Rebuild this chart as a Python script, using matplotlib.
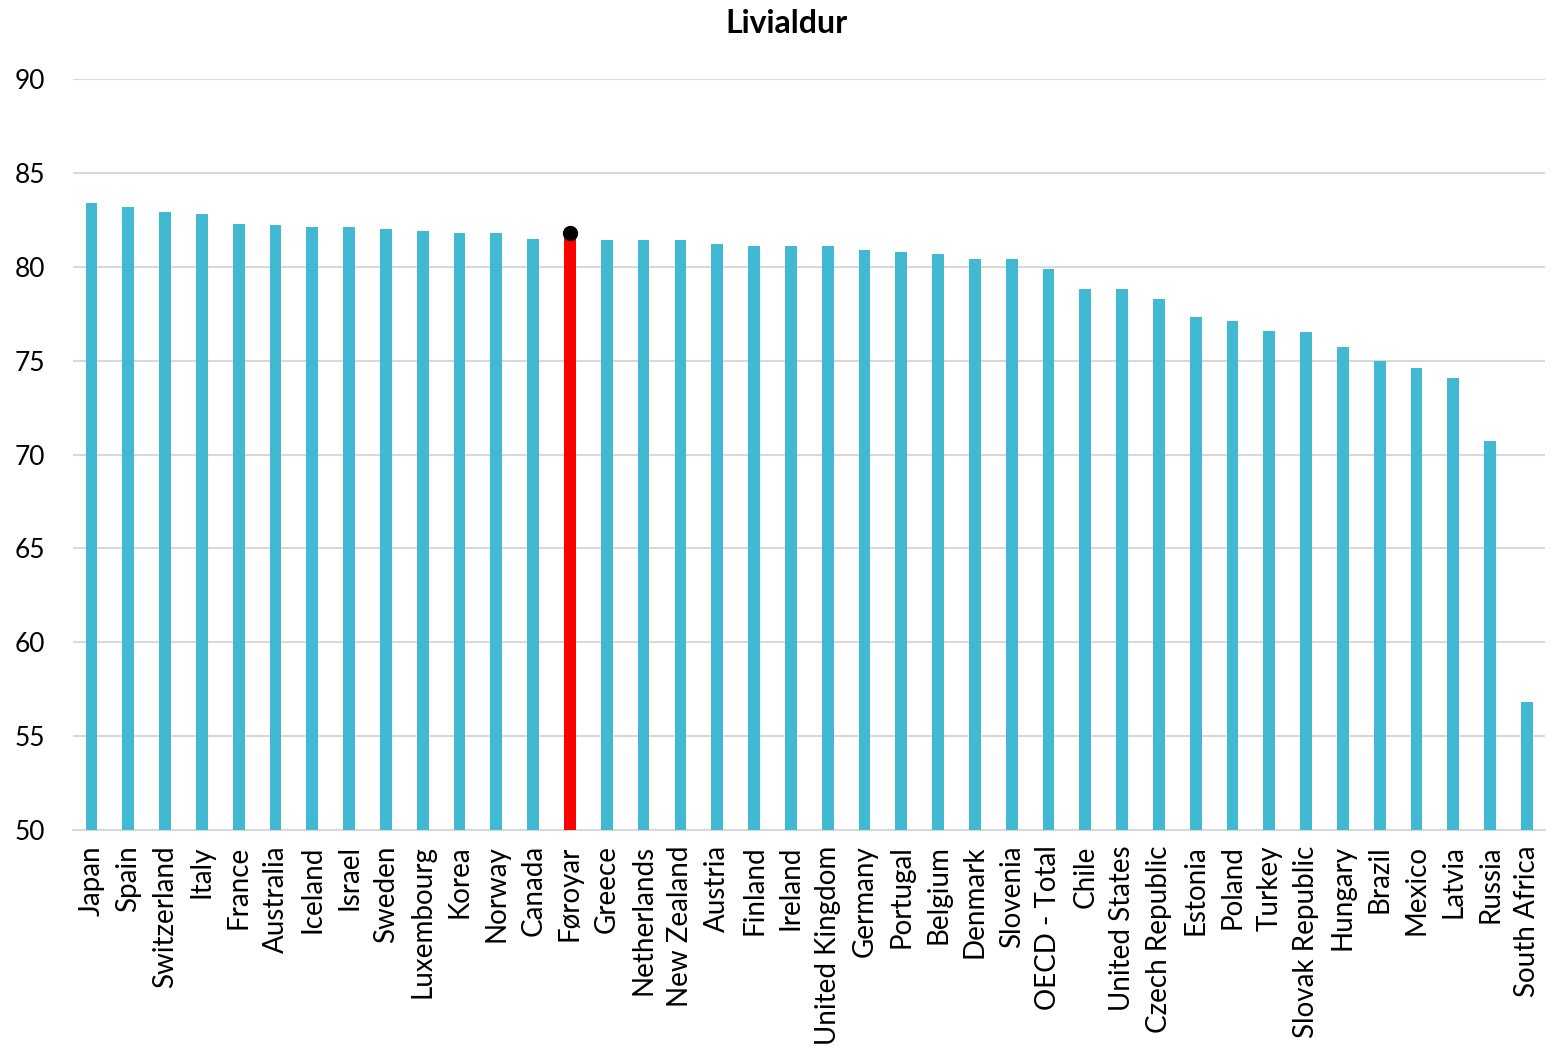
import matplotlib
matplotlib.use("Agg")
import matplotlib.pyplot as plt

countries = ["Japan", "Spain", "Switzerland", "Italy", "France", "Australia", "Iceland",
             "Israel", "Sweden", "Luxembourg", "Korea", "Norway", "Canada", "Føroyar",
             "Greece", "Netherlands", "New Zealand", "Austria", "Finland", "Ireland",
             "United Kingdom", "Germany", "Portugal", "Belgium", "Denmark", "Slovenia",
             "OECD - Total", "Chile", "United States", "Czech Republic", "Estonia",
             "Poland", "Turkey", "Slovak Republic", "Hungary", "Brazil", "Mexico",
             "Latvia", "Russia", "South Africa"]
values = [83.4, 83.2, 82.9, 82.8, 82.3, 82.2, 82.1, 82.1, 82.0, 81.9, 81.8, 81.8, 81.5, 81.8,
          81.4, 81.4, 81.4, 81.2, 81.1, 81.1, 81.1, 80.9, 80.8, 80.7, 80.4, 80.4,
          79.9, 78.8, 78.8, 78.3, 77.3, 77.1, 76.6, 76.5, 75.7, 75.0, 74.6, 74.1, 70.7, 56.8]
highlight = "Føroyar"
yticks = [50, 55, 60, 65, 70, 75, 80, 85, 90]
title = "Livialdur"

plt.rcParams['font.family'] = ['Lato', 'DejaVu Sans']

fig = plt.figure(figsize=(15.61, 10.51), dpi=100)
ax = fig.add_axes([0.0468, 0.2103, 0.9432, 0.7145])

x = list(range(len(countries)))
colors = ["#FF0000" if c == highlight else "#41B9D3" for c in countries]
ax.bar(x, [v - 50 for v in values], bottom=50, width=0.32, color=colors, zorder=3)
hi = countries.index(highlight)
ax.plot([hi], [values[hi]], 'o', color='black', markersize=10, zorder=4)

ax.set_xlim(-0.5, len(countries) - 0.5)
ax.set_ylim(50, 90)
ax.set_yticks(yticks)
ax.set_yticklabels([str(t) for t in yticks], fontsize=19)
ax.set_xticks(x)
ax.set_xticklabels(countries, rotation=90, fontsize=20)
ax.tick_params(axis='both', length=0, colors='black')
ax.tick_params(axis='y', pad=20)
ax.tick_params(axis='x', pad=11)
ax.grid(axis='y', color='#D9D9D9', linewidth=1.5, zorder=0)
for s in ['top', 'right', 'left']:
    ax.spines[s].set_visible(False)
ax.spines['bottom'].set_color('#D9D9D9')
ax.spines['bottom'].set_linewidth(1.5)

fig.text(0.504, 0.978, title, ha='center', va='center', fontsize=23, fontweight='bold')

fig.savefig("out.png", dpi=100)
